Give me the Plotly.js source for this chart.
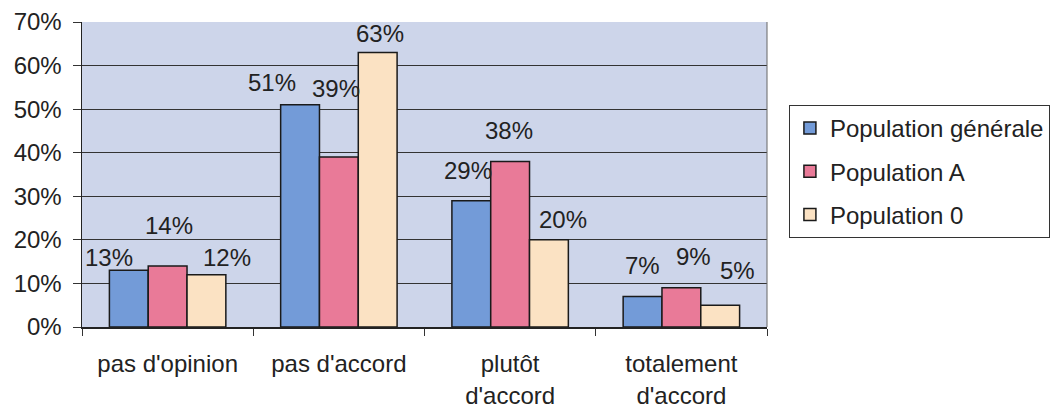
<!DOCTYPE html>
<html>
<head>
<meta charset="utf-8">
<script src="https://cdn.plot.ly/plotly-3.0.1.min.js"></script>
<style>html,body{margin:0;padding:0;background:#fff;}#chart{width:1062px;height:408px;}</style>
</head>
<body>
<div id="chart"></div>
<script>
// ---- data ----
var categories = ["pas d'opinion", "pas d'accord", "plutôt<br>d'accord", "totalement<br>d'accord"];
var seriesNames = ["Population générale", "Population A", "Population 0"];
var popGenerale = [0.13, 0.51, 0.29, 0.07];
var popA = [0.14, 0.39, 0.38, 0.09];
var pop0 = [0.12, 0.63, 0.20, 0.05];
var yTickVals = [0, 0.1, 0.2, 0.3, 0.4, 0.5, 0.6, 0.7];
var yTickText = ["0%", "10%", "20%", "30%", "40%", "50%", "60%", "70%"];

// ---- styles ----
var colors = ["#739bd8", "#e97a98", "#fbe2c3"];
var FONT = "Arial, 'Liberation Sans', sans-serif";
var FS = 24;
// label placement (pixel offsets from bar centre / bar top), one row per series
var labelDx = [[-20, -28, -3, 0], [1, -3, -1, 12], [20, 2, 14, 17]];
var labelDy = [[13, 22, 30, 31], [41, 69, 31, 31], [17, 19, 20, 35]];
var barPx = 39;

var allSeries = [popGenerale, popA, pop0];
var traces = allSeries.map(function (vals, i) {
  return {
    type: 'bar',
    name: seriesNames[i],
    x: categories,
    y: vals,
    legendgroup: 'g' + i,
    marker: {color: colors[i], line: {color: '#1a1a1a', width: 1.5}},
    hoverinfo: 'skip'
  };
});

var annotations = [];
allSeries.forEach(function (vals, i) {
  vals.forEach(function (v, j) {
    annotations.push({
      x: categories[j], y: v, xref: 'x', yref: 'y',
      text: Math.round(v * 100) + '%',
      showarrow: false,
      xanchor: 'center', yanchor: 'middle',
      xshift: (i - 1) * barPx + labelDx[i][j],
      yshift: labelDy[i][j],
      font: {family: FONT, size: FS, color: '#222'}
    });
  });
});

var layout = {
  width: 1062, height: 408,
  margin: {l: 82, r: 293, t: 22, b: 81},
  paper_bgcolor: '#ffffff',
  plot_bgcolor: '#cdd5ea',
  barmode: 'group',
  bargap: 0.32,
  bargroupgap: 0,
  font: {family: FONT, size: FS, color: '#222'},
  showlegend: true,
  legend: {
    x: 1.032, xanchor: 'left', y: 0.728, yanchor: 'top',
    bgcolor: '#ffffff', bordercolor: '#333', borderwidth: 1,
    font: {family: FONT, size: FS, color: '#222'},
    traceorder: 'grouped', tracegroupgap: 9,
    itemclick: false
  },
  xaxis: {
    type: 'category',
    showgrid: false,
    showline: true, linecolor: '#222', linewidth: 1.5,
    mirror: false,
    ticks: 'outside', tickson: 'boundaries', ticklen: 7, tickcolor: '#333',
    ticklabelstandoff: 15,
    tickfont: {family: FONT, size: FS, color: '#222'},
    fixedrange: true
  },
  yaxis: {
    range: [0, 0.7],
    tickvals: yTickVals, ticktext: yTickText,
    showgrid: true, gridcolor: '#333333', gridwidth: 1,
    zeroline: false,
    showline: true, linecolor: '#222', linewidth: 1.5,
    ticks: 'outside', ticklen: 8, tickcolor: '#333',
    ticklabelstandoff: 6,
    tickfont: {family: FONT, size: FS, color: '#222'},
    fixedrange: true
  },
  shapes: [{
    type: 'line', xref: 'paper', yref: 'paper', x0: 1, x1: 1, y0: 0, y1: 1,
    line: {color: '#666', width: 1}
  }],
  annotations: annotations
};

Plotly.newPlot('chart', traces, layout, {displayModeBar: false, staticPlot: true});
</script>
</body>
</html>
